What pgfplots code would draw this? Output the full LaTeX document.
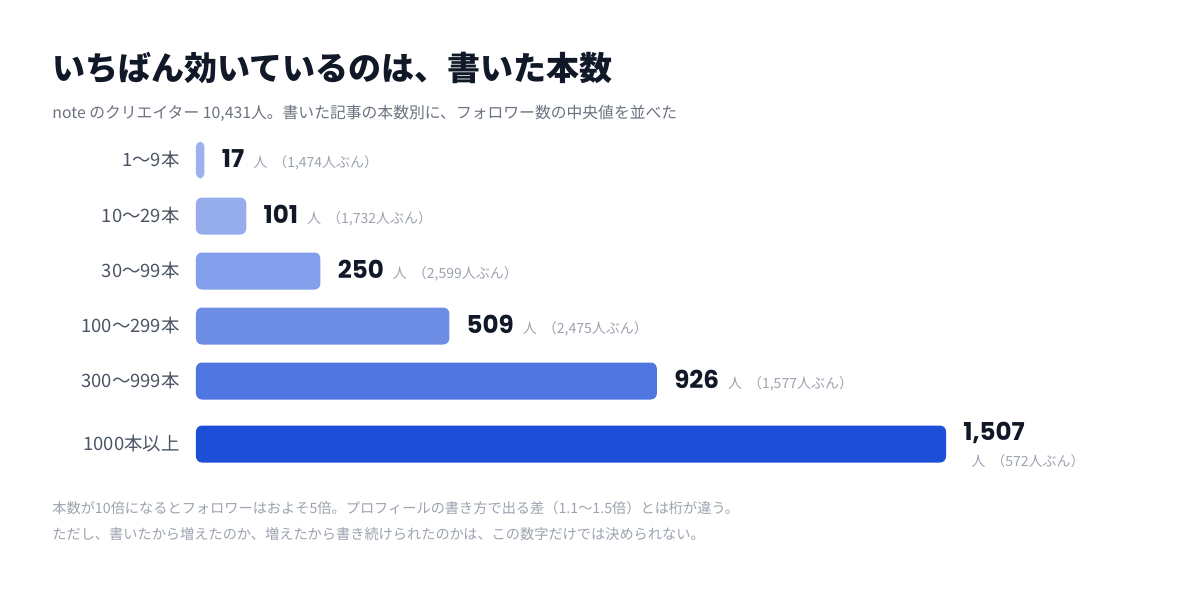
\documentclass[border=0pt]{standalone}
\usepackage{fontspec}
\usepackage{pgfplots}
\pgfplotsset{compat=1.18}
\setmainfont{Noto Sans CJK JP}
\newfontfamily\numfont{Poppins}[Numbers=Monospaced]

\definecolor{blue700}{HTML}{1D4ED8}
\definecolor{titlecol}{HTML}{111827}
\definecolor{subcol}{HTML}{6B7280}
\definecolor{catcol}{HTML}{4B5563}
\definecolor{unitcol}{HTML}{9CA3AF}

% value label: bold count, then unit and creator count in grey
\newcommand{\vl}[1]{{\numfont\bfseries\fontsize{12.3}{14}\selectfont\pgfmathprintnumber{\pgfplotspointmeta}}\hspace{4.5pt}{\color{unitcol}\fontsize{7}{8}\selectfont 人\hspace{3pt}（#1人ぶん）}}

\begin{document}
\begin{tikzpicture}
\path[use as bounding box] (0,0) rectangle (600pt,-300pt);
\fill[white] (0,0) rectangle (600pt,-300pt);

\begin{scope}[x=0.5pt,y=-0.5pt]
\node[anchor=west,inner sep=0pt,text=titlecol,font=\bfseries\fontsize{16.5}{18}\selectfont] at (52,68) {いちばん効いているのは、書いた本数};
\node[anchor=west,inner sep=0pt,text=subcol,font=\fontsize{7.9}{9}\selectfont] at (52,113) {note のクリエイター 10,431人。書いた記事の本数別に、フォロワー数の中央値を並べた};
\node[anchor=west,inner sep=0pt,text=unitcol,font=\fontsize{7.1}{8}\selectfont] at (52,508) {本数が10倍になるとフォロワーはおよそ5倍。プロフィールの書き方で出る差（1.1〜1.5倍）とは桁が違う。};
\node[anchor=west,inner sep=0pt,text=unitcol,font=\fontsize{7.1}{8}\selectfont] at (52,534) {ただし、書いたから増えたのか、増えたから書き続けられたのかは、この数字だけでは決められない。};
\end{scope}

\begin{axis}[
    at={(98pt,-300pt)}, anchor=south west,
    scale only axis, width=375pt, height=300pt,
    xmin=0, xmax=1507, ymin=0, ymax=600,
    y dir=reverse,
    xbar, bar shift=0pt, bar width=37,
    axis line style={draw=none},
    xtick=\empty,
    ytick={160,216,271,326,381,444},
    yticklabels={1〜9本,10〜29本,30〜99本,100〜299本,300〜999本,1000本以上},
    major tick length=0pt,
    yticklabel style={inner sep=0pt, xshift=-8pt, text=catcol, font=\fontsize{9.2}{10}\selectfont},
    clip=false,
    point meta=x,
    /pgf/number format/1000 sep={,},
    /pgf/number format/assume math mode=true,
    every node near coord/.append style={anchor=west, xshift=8.5pt, inner sep=0pt, text=titlecol},
]
\addplot[draw=none, fill=blue700!44!white, rounded corners=2.5pt, nodes near coords={\vl{1,474}}] coordinates {(17,160)};
\addplot[draw=none, fill=blue700!47!white, rounded corners=3pt, nodes near coords={\vl{1,732}}] coordinates {(101,216)};
\addplot[draw=none, fill=blue700!55!white, rounded corners=3pt, nodes near coords={\vl{2,599}}] coordinates {(250,271)};
\addplot[draw=none, fill=blue700!64!white, rounded corners=3pt, nodes near coords={\vl{2,475}}] coordinates {(509,326)};
\addplot[draw=none, fill=blue700!78!white, rounded corners=3pt, nodes near coords={\vl{1,577}}] coordinates {(926,381)};
\addplot[draw=none, fill=blue700, rounded corners=3pt,
    every node near coord/.append style={yshift=-2pt},
    nodes near coords={\begin{tabular}{@{}l@{}}{\numfont\bfseries\fontsize{12.3}{14}\selectfont\pgfmathprintnumber{\pgfplotspointmeta}}\\[1pt]\hspace{4pt}{\color{unitcol}\fontsize{7}{8}\selectfont 人\hspace{3pt}（572人ぶん）}\end{tabular}}]
    coordinates {(1507,444)};
\end{axis}
\end{tikzpicture}
\end{document}
